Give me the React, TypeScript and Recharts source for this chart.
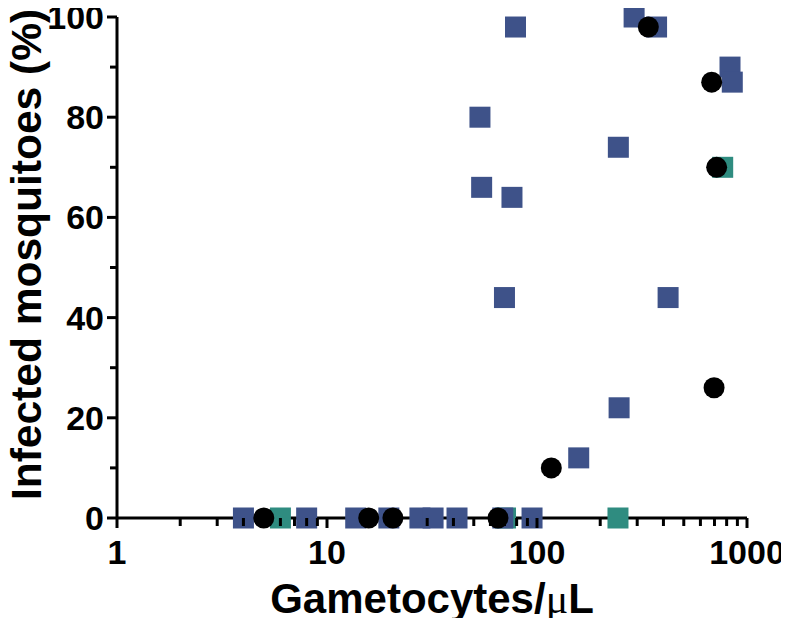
import React from 'react';
import { ScatterChart, Scatter, XAxis, YAxis } from 'recharts';

// Blue squares
const blueX = [53.5, 54.5, 76, 79, 70, 244, 290, 371, 830, 851, 421, 246, 158, 4.0, 8.0, 13.7, 19.7, 27.7, 32, 41.6, 68.7, 94.7];
const blueY = [80, 66, 64, 98, 44, 74, 100, 98, 90, 87, 44, 22, 12, 0, 0, 0, 0, 0, 0, 0, 0, 0];
// Teal squares
const tealX = [6, 70.8, 243, 766];
const tealY = [0, 0, 0, 70];
// Black circles
const blackX = [5, 15.8, 20.6, 65.2, 117, 339, 679, 717, 697];
const blackY = [0, 0, 0, 0, 10, 98, 87, 70, 26];

const xMajorTicks = [1, 10, 100, 1000];
const xMinorTicks = [2, 3, 4, 5, 6, 7, 8, 9, 20, 30, 40, 50, 60, 70, 80, 90, 200, 300, 400, 500, 600, 700, 800, 900];
const yMajorTicks = [0, 20, 40, 60, 80, 100];
const yMinorTicks = [10, 30, 50, 70, 90];

const BLUE = '#3E5289';
const TEAL = '#2F8C80';
const BLACK = '#000000';
const FONT = 'Liberation Sans, Arial, Helvetica, sans-serif';

const zip = (xs: number[], ys: number[]) => xs.map((x, i) => ({ x, y: ys[i] }));
const blueData = zip(blueX, blueY);
const tealData = zip(tealX, tealY);
const blackData = zip(blackX, blackY);

const TS = 10;

const XTick = (props: any) => {
  const { x, y, payload } = props;
  const v = payload.value;
  const major = xMajorTicks.includes(v);
  const y0 = y - TS;
  return (
    <g>
      <line x1={x} x2={x} y1={y0} y2={y0 + (major ? 10 : 8)} stroke="#000" strokeWidth={3} />
      {major && (
        <text x={x} y={y0 + 45.5} textAnchor="middle" fontSize={34} fontWeight="bold" fill="#000" fontFamily={FONT}>
          {v}
        </text>
      )}
    </g>
  );
};

const YTick = (props: any) => {
  const { x, y, payload } = props;
  const v = payload.value;
  const major = yMajorTicks.includes(v);
  const x0 = x + TS;
  return (
    <g>
      <line x1={x0 - (major ? 10 : 7)} x2={x0} y1={y} y2={y} stroke="#000" strokeWidth={3} />
      {major && (
        <text x={x0 - 13} y={y + 12} textAnchor="end" fontSize={34} fontWeight="bold" fill="#000" fontFamily={FONT}>
          {v}
        </text>
      )}
    </g>
  );
};

const square = (color: string) => (props: any) => {
  const { cx, cy } = props;
  return <rect x={cx - 10.5} y={cy - 10.5} width={21} height={21} fill={color} />;
};
const circle = (color: string) => (props: any) => {
  const { cx, cy } = props;
  return <circle cx={cx} cy={cy} r={10.5} fill={color} />;
};

const xTitle = (p: any) => {
  const vb = p.viewBox;
  return (
    <text x={vb.x + vb.width / 2} y={vb.y + 95} textAnchor="middle" fontSize={42} fontWeight="bold" fill="#000" fontFamily={FONT}>
      Gametocytes/<tspan fontFamily="Liberation Serif, DejaVu Serif, serif" fontWeight="normal">μ</tspan>L
    </text>
  );
};

const yTitle = (p: any) => {
  const vb = p.viewBox;
  const tx = vb.x + 41;
  const ty = vb.y + vb.height / 2 - 13;
  return (
    <text x={tx} y={ty} transform={`rotate(-90, ${tx}, ${ty})`} textAnchor="middle" fontSize={42.5} fontWeight="bold" fill="#000" fontFamily={FONT}>
      Infected mosquitoes (%)
    </text>
  );
};

export default function App() {
  return (
    <div style={{ margin: -8, background: '#fff' }}>
      <ScatterChart width={789} height={626} margin={{ top: 17, right: 42, bottom: 0, left: 0 }}>
        <XAxis
          type="number"
          dataKey="x"
          scale="log"
          domain={[1, 1000]}
          ticks={[...xMajorTicks, ...xMinorTicks]}
          interval={0}
          height={108}
          tickSize={TS}
          tickMargin={0}
          tickLine={false}
          axisLine={{ stroke: '#000', strokeWidth: 3 }}
          tick={XTick}
          label={{ content: xTitle }}
        />
        <YAxis
          type="number"
          dataKey="y"
          domain={[0, 100]}
          ticks={[...yMajorTicks, ...yMinorTicks]}
          interval={0}
          width={117}
          tickSize={TS}
          tickMargin={0}
          tickLine={false}
          axisLine={{ stroke: '#000', strokeWidth: 3 }}
          tick={YTick}
          label={{ content: yTitle }}
        />
        <Scatter data={tealData} shape={square(TEAL)} isAnimationActive={false} />
        <Scatter data={blueData} shape={square(BLUE)} isAnimationActive={false} />
        <Scatter data={blackData} shape={circle(BLACK)} isAnimationActive={false} />
      </ScatterChart>
    </div>
  );
}
